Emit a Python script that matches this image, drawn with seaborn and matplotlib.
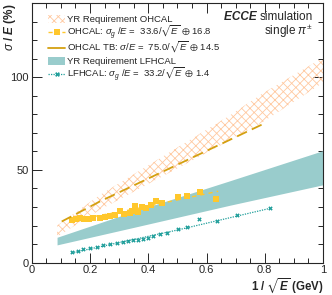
import matplotlib
matplotlib.use("Agg")
import matplotlib.pyplot as plt
from matplotlib.patches import Rectangle
from matplotlib.lines import Line2D
from matplotlib.ticker import MultipleLocator
import seaborn as sns
import numpy as np
import pandas as pd

# YR requirement bands (edges)
yr_ohcal_x = [0.087, 0.234, 0.681, 0.795, 1.0]
yr_ohcal_lo = [14.0, 28.5, 66.0, 76.0, 97.0]
yr_ohcal_hi = [20.0, 36.5, 79.5, 91.5, 110.5]

yr_lfhcal_x = [0.087, 0.338, 0.681, 1.0]
yr_lfhcal_lo = [9.6, 18.6, 31.0, 42.0]
yr_lfhcal_hi = [13.7, 27.0, 44.2, 60.4]

# OHCAL test beam line
tb_x = [0.103, 0.234, 0.681, 0.795]
tb_y = [22.2, 33.0, 66.3, 74.8]

# OHCAL simulation points + fit
ohcal_x = [0.137, 0.152, 0.166, 0.18, 0.195, 0.21, 0.234, 0.25, 0.269, 0.285,
           0.303, 0.318, 0.337, 0.343, 0.355, 0.365, 0.377, 0.392, 0.408,
           0.427, 0.446, 0.501, 0.534, 0.578, 0.633]
ohcal_y = [23.0, 23.4, 24.0, 23.6, 23.8, 24.2, 24.0, 24.4, 24.9, 25.6,
           27.6, 26.4, 27.0, 27.6, 30.6, 27.4, 29.9, 29.4, 31.2,
           33.0, 32.4, 35.3, 35.7, 38.2, 34.4]
ohcal_fit_x = [0.13, 0.35, 0.64]
ohcal_fit_y = [22.5, 28.8, 38.5]

# LFHCAL simulation points + fit
lf_x = [0.137, 0.160, 0.177, 0.200, 0.223, 0.246, 0.269, 0.292, 0.314, 0.332,
        0.349, 0.366, 0.383, 0.400, 0.418, 0.440, 0.463, 0.503, 0.532, 0.575,
        0.635, 0.704, 0.818]
lf_y = [5.6, 6.5, 7.2, 7.8, 8.7, 9.6, 10.1, 10.8, 11.4, 11.9,
        12.3, 12.4, 12.8, 13.5, 14.4, 15.3, 16.2, 18.0, 19.5, 23.5,
        22.7, 25.8, 29.6]
lf_fit_x = [0.137, 0.5, 0.818]
lf_fit_y = [5.3, 17.6, 29.3]

legend_labels = [
    "YR Requirement OHCAL",
    r"OHCAL: $\sigma_g$ /$E$ =  33.6/$\sqrt{E}$ $\oplus$ 16.8",
    r"OHCAL TB: $\sigma$/$E$ =  75.0/$\sqrt{E}$ $\oplus$ 14.5",
    "YR Requirement LFHCAL",
    r"LFHCAL: $\sigma_g$ /$E$ =  33.2/$\sqrt{E}$ $\oplus$ 1.4",
]

c_hatch = "#FFC9A0"
c_teal_band = "#99CCCC"
c_tb = "#D4A010"
c_ohcal = "#FFC72C"
c_lf = "#1E9E9A"

sns.set_style("ticks")
plt.rcParams["font.family"] = ["Liberation Sans", "DejaVu Sans"]
plt.rcParams["mathtext.fontset"] = "custom"
plt.rcParams["mathtext.rm"] = "Liberation Sans"
plt.rcParams["mathtext.it"] = "Liberation Sans:italic"
plt.rcParams["mathtext.bf"] = "Liberation Sans:bold"
plt.rcParams["mathtext.bfit"] = "Liberation Sans:bold:italic"
plt.rcParams["mathtext.fallback"] = "stixsans"
plt.rcParams["hatch.linewidth"] = 0.6
plt.rcParams["hatch.color"] = c_hatch

fig = plt.figure(figsize=(3.32, 2.95), dpi=100)
ax = fig.add_axes([0.0955, 0.1095, 0.8775, 0.8805])

ax.fill_between(yr_ohcal_x, yr_ohcal_lo, yr_ohcal_hi, facecolor="none",
                edgecolor=c_hatch, hatch="xxxx", linewidth=0)
ax.fill_between(yr_lfhcal_x, yr_lfhcal_lo, yr_lfhcal_hi, color=c_teal_band,
                linewidth=0)

sns.lineplot(x=tb_x, y=tb_y, ax=ax, color=c_tb, lw=1.3)
ax.lines[-1].set_linestyle((0, (6, 3)))

sns.lineplot(x=ohcal_fit_x, y=ohcal_fit_y, ax=ax, color=c_ohcal, lw=1.0)
ax.lines[-1].set_linestyle((0, (3, 3)))
sns.scatterplot(x=ohcal_x, y=ohcal_y, ax=ax, color=c_ohcal, marker="s",
                s=16, linewidth=0)

sns.lineplot(x=lf_fit_x, y=lf_fit_y, ax=ax, color=c_lf, lw=0.9)
ax.lines[-1].set_linestyle((0, (1, 1)))
sns.scatterplot(x=lf_x, y=lf_y, ax=ax, color=c_lf, marker="X",
                s=10, linewidth=0)

ax.set_xlim(0, 1)
ax.set_ylim(0, 140)
ax.xaxis.set_major_locator(MultipleLocator(0.2))
ax.xaxis.set_minor_locator(MultipleLocator(0.05))
ax.yaxis.set_major_locator(MultipleLocator(50))
ax.yaxis.set_minor_locator(MultipleLocator(10))
ax.tick_params(which="both", direction="in", top=True, right=True,
               labelsize=8, width=0.7, pad=2)
ax.tick_params(which="major", length=7)
ax.tick_params(which="minor", length=3.5)
ax.set_xticks([0, 0.2, 0.4, 0.6, 0.8, 1])
ax.set_xticklabels(["0", "0.2", "0.4", "0.6", "0.8", "1"])
for s in ax.spines.values():
    s.set_linewidth(0.8)

ax.set_xlabel(r"1 / $\sqrt{\boldsymbol{E}}$ (GeV)", fontsize=8.3,
              fontweight="bold", loc="right")
ax.xaxis.set_label_coords(1.0, -0.052)
ax.set_ylabel(r"$\sigma$ / $\boldsymbol{E}$ (%)", fontsize=8.5,
              fontweight="bold", loc="top")
ax.yaxis.set_label_coords(-0.048, 1.0)

sim = ax.text(0.965, 0.945, "simulation", transform=ax.transAxes,
              ha="right", va="center", fontsize=8.5)
ax.annotate("ECCE ", xy=(0, 0.5), xycoords=sim, ha="right", va="center",
            fontsize=8.5, fontweight="bold", style="italic")
ax.text(0.965, 0.89, r"single $\pi^{\pm}$", transform=ax.transAxes,
        ha="right", va="center", fontsize=8.5)

# legend drawn row by row so that all rows have the same spacing
row_y = [0.938, 0.888, 0.828, 0.778, 0.726]
hx0, hx1, tx = 0.056, 0.115, 0.122
tr = ax.transAxes
ax.add_patch(Rectangle((hx0, row_y[0] - 0.015), hx1 - hx0, 0.03, transform=tr,
                       facecolor="none", edgecolor=c_hatch, hatch="xxxx", lw=0))
ax.add_line(Line2D([hx0, hx1], [row_y[1]] * 2, transform=tr, color=c_ohcal,
                   ls=(0, (3, 2)), lw=1.0))
ax.add_line(Line2D([(hx0 + hx1) / 2], [row_y[1]], transform=tr, color=c_ohcal,
                   marker="s", ms=4, mew=0, ls="none"))
ax.add_line(Line2D([hx0, hx1], [row_y[2]] * 2, transform=tr, color=c_tb, lw=1.3))
ax.add_patch(Rectangle((hx0, row_y[3] - 0.015), hx1 - hx0, 0.03, transform=tr,
                       facecolor=c_teal_band, lw=0))
ax.add_line(Line2D([hx0, hx1], [row_y[4]] * 2, transform=tr, color=c_lf,
                   ls=(0, (1, 1)), lw=0.9))
ax.add_line(Line2D([(hx0 + hx1) / 2], [row_y[4]], transform=tr, color=c_lf,
                   marker="X", ms=3.5, mew=0, ls="none"))
for yy, lab in zip(row_y, legend_labels):
    ax.text(tx, yy - 0.013, lab, transform=tr, ha="left", va="baseline",
            fontsize=6.8)

fig.savefig("out.png", dpi=100)
